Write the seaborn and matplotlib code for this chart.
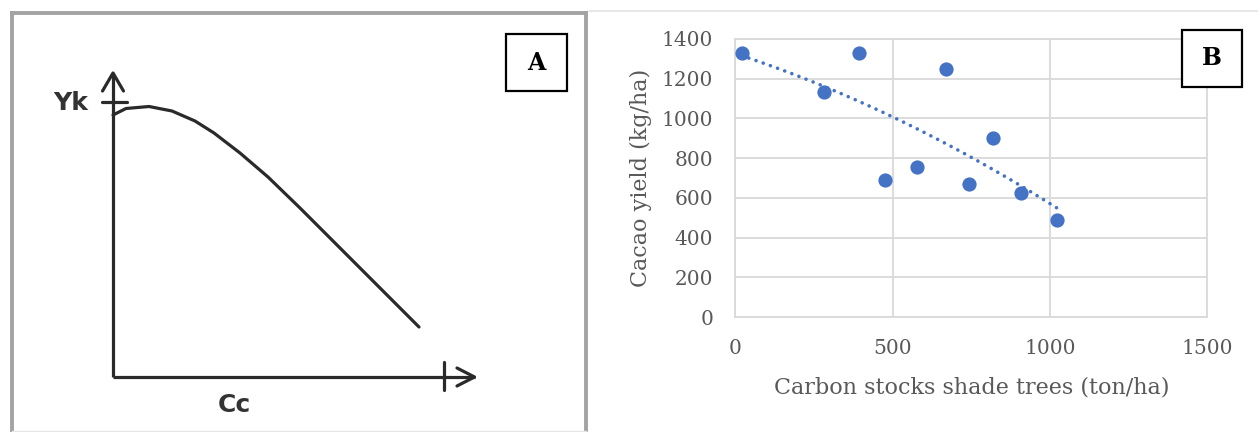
import numpy as np
import pandas as pd
import matplotlib
matplotlib.use("Agg")
import matplotlib.pyplot as plt
from matplotlib.patches import Rectangle
from matplotlib.lines import Line2D
import seaborn as sns

# ---------------- data ----------------
# Panel B: scatter of carbon stocks vs cacao yield
carbon_stocks = [20, 283, 394, 670, 476, 576, 742, 820, 908, 1021]
cacao_yield = [1331, 1135, 1331, 1249, 690, 754, 669, 900, 627, 489]
x_ticks_b = [0, 500, 1000, 1500]
y_ticks_b = [0, 200, 400, 600, 800, 1000, 1200, 1400]
x_label_b = "Carbon stocks shade trees (ton/ha)"
y_label_b = "Cacao yield (kg/ha)"

# Panel A: schematic yield curve (Cc vs Yk)
curve_cc = [0, 13, 36, 59, 82, 101, 127, 155, 187, 231, 306]
curve_yk = [262, 268.5, 270.5, 266, 256, 244, 224, 200, 169, 125, 50]
label_a_x = "Cc"
label_a_y = "Yk"

# ---------------- figure ----------------
W, H = 1258, 432
DPI = 100
sns.set_theme(style="white")
plt.rcParams["font.family"] = ["DejaVu Serif"]
fig = plt.figure(figsize=(W / DPI, H / DPI), dpi=DPI)
fig.patch.set_facecolor("white")


def fx(px):
    return px / W


def fy(py):
    return 1 - py / H


# ---------- Panel A ----------
fl, fr, ft, fb = 11.5, 585.5, 13, 431
ax_a = fig.add_axes([fx(fl), fy(fb), fx(fr - fl), (fb - ft) / H])
ox, oy = 113, 377  # origin of schematic axes in pixels
ax_a.set_xlim(fl - ox, fr - ox)
ax_a.set_ylim(oy - fb, oy - ft)
ax_a.set_xticks([])
ax_a.set_yticks([])
for s in ["left", "right", "top"]:
    ax_a.spines[s].set_color("#a3a3a3")
    ax_a.spines[s].set_linewidth(2.8)
ax_a.spines["bottom"].set_color("#e6e6e6")
ax_a.spines["bottom"].set_linewidth(1.0)

line_col = "#2a2a2a"
lw_a = 2.3
df_a = pd.DataFrame({"Cc": curve_cc, "Yk": curve_yk})
sns.lineplot(data=df_a, x="Cc", y="Yk", ax=ax_a, color=line_col, lw=lw_a,
             sort=False, estimator=None, solid_joinstyle="round",
             solid_capstyle="round")
ax_a.set_xlabel("")
ax_a.set_ylabel("")
# schematic axes with arrows
ax_a.plot([0, 0], [0, 304], color=line_col, lw=lw_a, solid_capstyle="butt")
ax_a.plot([0, 361.5], [0, 0], color=line_col, lw=lw_a, solid_capstyle="butt")
ax_a.plot([-10.5, 0, 10.5], [286, 304, 286], color=line_col, lw=lw_a)
ax_a.plot([344, 361.5, 344], [9, 0, -9], color=line_col, lw=lw_a)
ax_a.plot([-11, 14], [275, 275], color=line_col, lw=lw_a)
ax_a.plot([331, 331], [15, -13], color=line_col, lw=lw_a)
ax_a.text(-42, 274, label_a_y, family="DejaVu Sans", fontweight="bold",
          fontsize=18, color="#333333", ha="center", va="center")
ax_a.text(121, -28, label_a_x, family="DejaVu Sans", fontweight="bold",
          fontsize=18, color="#333333", ha="center", va="center")

# ---------- Panel B ----------
bl, br, bt, bb = 735.3, 1207.4, 39, 317.2
ax_b = fig.add_axes([fx(bl), fy(bb), fx(br - bl), (bb - bt) / H])
grid_col = "#d9d9d9"
df_b = pd.DataFrame({"c": carbon_stocks, "y": cacao_yield})
sns.scatterplot(data=df_b, x="c", y="y", ax=ax_b, color="#4472C4", s=105,
                linewidth=0, zorder=3)
coef = np.polyfit(carbon_stocks, cacao_yield, 2)
xt = np.linspace(min(carbon_stocks), max(carbon_stocks), 200)
ax_b.plot(xt, np.polyval(coef, xt), color="#4472C4", lw=2.6,
          linestyle=(0, (0.01, 2.1)), dash_capstyle="round", zorder=2)
ax_b.set_xlim(0, 1500)
ax_b.set_ylim(0, 1400)
ax_b.set_xticks(x_ticks_b)
ax_b.set_yticks(y_ticks_b)
ax_b.grid(True, color=grid_col, lw=1.3)
ax_b.set_axisbelow(True)
for s in ax_b.spines.values():
    s.set_color(grid_col)
    s.set_linewidth(1.3)
txt_col = "#595959"
ax_b.tick_params(axis="both", length=0, labelsize=14.5, labelcolor=txt_col,
                 pad=16)
ax_b.set_xlabel(x_label_b, fontsize=16, color=txt_col, labelpad=13)
ax_b.set_ylabel(y_label_b, fontsize=16, color=txt_col, labelpad=7)

# top light border of panel B
fig.add_artist(Line2D([fx(589), 1], [fy(10.5), fy(10.5)], color="#e3e3e3",
                      lw=1.2, transform=fig.transFigure))

# ---------- letter boxes ----------
def letter_box(x0, y0, x1, y1, letter):
    fig.add_artist(Rectangle((fx(x0), fy(y1)), fx(x1 - x0), (y1 - y0) / H,
                             transform=fig.transFigure, facecolor="white",
                             edgecolor="black", lw=1.6, zorder=5))
    fig.text(fx((x0 + x1) / 2), fy((y0 + y1) / 2), letter, ha="center",
             va="center", fontsize=17, fontweight="bold",
             family="DejaVu Serif", color="black", zorder=6)


letter_box(505.7, 34, 566.7, 91, "A")
letter_box(1181.7, 30, 1241.7, 86.7, "B")

fig.savefig("out.png", dpi=DPI)
